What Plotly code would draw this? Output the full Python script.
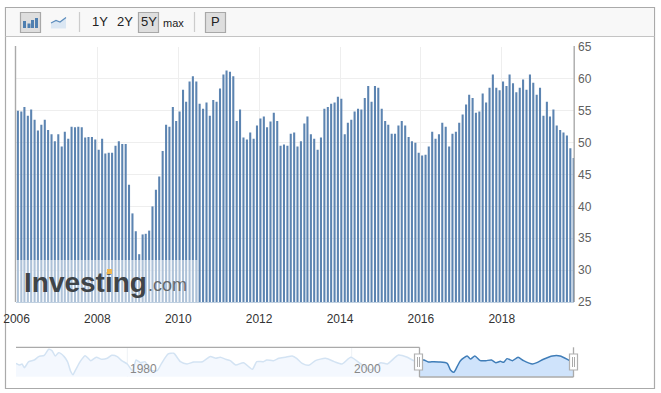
import pandas as pd
import plotly.graph_objects as go

W, H = 661, 393

months = pd.date_range("2006-01-13", periods=166, freq=pd.DateOffset(months=1))
pmi_values = [
    55.0, 54.9, 55.6, 54.2, 55.2, 53.6, 51.9, 52.8, 53.6, 52.0, 51.3, 50.2,
    51.3, 49.4, 51.7, 50.6, 52.5, 52.4, 52.5, 52.4, 50.8, 50.9, 50.9, 50.5,
    48.9, 50.6, 48.3, 48.4, 48.4, 49.5, 50.2, 49.8, 49.8, 43.4, 38.9, 36.1,
    32.5, 35.6, 35.7, 36.2, 40.0, 42.6, 44.7, 48.7, 52.8, 52.5, 55.6, 53.4,
    54.9, 58.3, 56.4, 59.6, 60.4, 59.6, 56.1, 55.3, 56.3, 54.2, 56.7, 56.4,
    58.5, 60.7, 61.3, 61.1, 60.4, 53.4, 55.2, 50.8, 50.5, 51.6, 50.6, 52.7,
    53.8, 54.1, 52.4, 53.3, 54.7, 53.4, 49.5, 49.7, 49.5, 51.4, 51.6, 49.4,
    50.2, 53.0, 54.1, 51.3, 50.6, 48.9, 50.8, 55.3, 55.6, 56.1, 56.3, 57.2,
    56.9, 51.3, 53.1, 53.6, 54.9, 55.3, 55.2, 57.0, 58.9, 56.4, 58.9, 58.6,
    55.3, 53.4, 52.8, 51.4, 51.4, 52.7, 53.4, 52.7, 50.9, 50.2, 50.0, 48.4,
    48.0, 48.1, 49.4, 51.7, 50.6, 51.3, 53.1, 52.5, 49.4, 51.4, 51.7, 53.1,
    54.4, 56.0, 57.5, 57.0, 54.7, 54.9, 57.7, 56.3, 58.6, 60.7, 58.6, 58.2,
    59.6, 58.9, 60.7, 59.3, 57.9, 58.6, 59.9, 58.3, 60.7, 59.4, 57.5, 58.6,
    54.2, 56.4, 54.1, 55.2, 52.7, 52.0, 51.6, 51.1, 49.1, 47.6,
]

nav_years_before = [
    1969.55, 1969.9, 1970.1, 1970.3, 1970.7, 1971.2, 1971.6, 1972.1, 1972.5, 1972.8,
    1973.1, 1973.4, 1973.9, 1974.2, 1974.5, 1974.7, 1974.9, 1975.4, 1975.8, 1976.3,
    1976.8, 1977.3, 1977.8, 1978.2, 1978.7, 1979.1, 1979.6, 1980.0, 1980.1, 1980.4,
    1980.8, 1981.2, 1981.7, 1982.3, 1982.7, 1983.3, 1983.8, 1984.4, 1985.0, 1985.6,
    1986.4, 1987.1, 1987.6, 1988.0, 1988.5, 1988.9, 1989.4, 1990.1, 1990.9, 1991.3,
    1991.9, 1992.2, 1992.8, 1993.3, 1993.9, 1994.5, 1994.9, 1995.4, 1996.0, 1996.6,
    1997.5, 1998.3, 1999.0, 1999.8, 2000.7, 2001.6, 2002.5, 2003.1, 2004.1, 2004.9,
    2005.5, 2006.0,
]
nav_values_before = [
    47.9, 45.0, 46.8, 40.2, 50.9, 53.9, 59.9, 62.2, 72.9, 70.6,
    61.0, 67.0, 59.9, 50.9, 33.0, 27.7, 34.9, 52.7, 61.6, 52.7,
    58.7, 55.1, 56.9, 62.2, 59.9, 52.7, 46.8, 36.0, 34.9, 53.9,
    49.1, 50.9, 36.0, 34.9, 47.9, 64.6, 65.8, 50.9, 46.8, 50.3,
    50.9, 59.9, 56.9, 58.7, 55.1, 52.7, 45.0, 49.1, 37.2, 50.9,
    50.9, 53.9, 52.7, 56.9, 58.7, 61.0, 56.9, 47.9, 44.4, 52.7,
    56.9, 50.9, 46.8, 58.7, 46.8, 36.0, 49.1, 46.8, 62.8, 58.7,
    52.7, 54.5,
]
nav_years_selected = [
    2006.0, 2006.4, 2006.8, 2007.3, 2007.75, 2008.5, 2008.8, 2009.1, 2009.4, 2009.7,
    2010.3, 2010.6, 2011.0, 2011.5, 2012.0, 2012.5, 2012.9, 2013.3, 2013.6, 2013.9,
    2014.4, 2014.9, 2015.4, 2016.2, 2016.6, 2017.2, 2018.0, 2018.7, 2019.6, 2019.95,
]
nav_values_selected = [
    54.5, 53.9, 50.3, 50.9, 50.3, 47.9, 36.0, 31.9, 42.0, 52.7,
    61.0, 55.7, 61.0, 52.7, 52.7, 53.9, 49.1, 51.5, 49.7, 56.3,
    52.7, 58.7, 52.7, 46.8, 49.1, 55.1, 61.0, 61.0, 52.7, 50.0,
]

y_ticks = [25, 30, 35, 40, 45, 50, 55, 60, 65]
toolbar_labels = ["1Y", "2Y", "5Y", "max", "P"]
nav_labels = ["1980", "2000"]


def px(x):
    return x / W


def py(y):
    return 1 - y / H


fig = go.Figure()
fig.add_trace(go.Bar(x=months, y=pmi_values, marker=dict(color="#5c84b1", line_width=0),
                     xaxis="x", yaxis="y", hoverinfo="skip"))
fig.add_trace(go.Scatter(x=nav_years_before, y=nav_values_before, mode="lines", xaxis="x2", yaxis="y2",
                         line=dict(color="#d3e3f3", width=1.5, shape="spline", smoothing=0.6),
                         fill="tozeroy", fillcolor="#f4f8fe", hoverinfo="skip"))
fig.add_trace(go.Scatter(x=nav_years_selected, y=nav_values_selected, mode="lines", xaxis="x2", yaxis="y2",
                         line=dict(color="#3f7db8", width=1.5, shape="spline", smoothing=0.6),
                         fill="tozeroy", fillcolor="#cfe3fb", hoverinfo="skip"))

shapes = []


def rect(x0, y0, x1, y1, fill="rgba(0,0,0,0)", line="rgba(0,0,0,0)", lw=1, layer="above"):
    shapes.append(dict(type="rect", xref="paper", yref="paper", x0=px(x0), x1=px(x1), y0=py(y0), y1=py(y1),
                       fillcolor=fill, line=dict(color=line, width=lw), layer=layer))


def seg(x0, y0, x1, y1, color="#aaaaaa", lw=1.4, layer="above"):
    shapes.append(dict(type="line", xref="paper", yref="paper", x0=px(x0), x1=px(x1), y0=py(y0), y1=py(y1),
                       line=dict(color=color, width=lw), layer=layer))


# frame and toolbar
rect(5.5, 7.5, 654.5, 388.5, fill="white", line="#aaaaaa", lw=1.2, layer="below")
rect(6, 8, 654, 36.5, fill="#f8f8f8", layer="below")
seg(5.5, 36.5, 654.5, 36.5, color="#c4c4c4", lw=1.2, layer="below")
for bx0, bx1 in [(20.5, 40.5), (138.5, 158.5), (205.5, 225.5)]:
    rect(bx0, 12.5, bx1, 32.5, fill="#dedede", line="#a8a8a8", lw=1.2, layer="below")
for sx in [79.5, 194.5]:
    seg(sx, 12, sx, 32, color="#cccccc", lw=1.2, layer="below")
# bars icon
rect(23, 21, 26, 28, fill="#4f7fb0")
rect(27.5, 23.5, 30.5, 28, fill="#4f7fb0")
rect(31, 20, 34, 28, fill="#4f7fb0")
rect(35, 18, 38, 28, fill="#4f7fb0")
# line icon
shapes.append(dict(type="path", xref="paper", yref="paper", layer="above",
                   path=f"M {px(51)} {py(23)} L {px(56)} {py(20.5)} L {px(60)} {py(22)} L {px(66)} {py(17.5)} "
                        f"L {px(66)} {py(28.5)} L {px(51)} {py(28.5)} Z",
                   fillcolor="#dbe7f3", line=dict(width=0)))
shapes.append(dict(type="path", xref="paper", yref="paper", layer="above",
                   path=f"M {px(51)} {py(23)} L {px(56)} {py(20.5)} L {px(60)} {py(22)} L {px(66)} {py(17.5)}",
                   line=dict(color="#5c8dbd", width=1.2)))

# plot edges
seg(15.5, 46, 15.5, 302, lw=1.4)
seg(574.2, 46, 574.2, 302, lw=1.4)

# watermark
rect(16, 260, 197.5, 302, fill="rgba(255,255,255,0.5)")

# navigator chrome
for year_px in [127.3, 351.7]:
    seg(year_px, 347, year_px, 377, color="#eef2f6", lw=1, layer="below")
seg(16, 347.3, 419.5, 347.3, lw=1.3)
seg(419.5, 347.3, 419.5, 377, lw=1.3)
seg(419.5, 377, 573.5, 377, lw=1.3)
seg(573.5, 347.3, 573.5, 377, lw=1.3)
for hx in [414.5, 569.5]:
    rect(hx, 354, hx + 8, 370, fill="white", line="#b0b0b0", lw=1.2)
    seg(hx + 3, 357, hx + 3, 367, lw=1)
    seg(hx + 5, 357, hx + 5, 367, lw=1)


def note(x, y, text, size, color, anchor="center", font="Liberation Sans"):
    return dict(xref="paper", yref="paper", x=px(x), y=py(y), text=text, showarrow=False,
                xanchor=anchor, yanchor="middle", borderpad=0, borderwidth=0,
                font=dict(family=font, size=size, color=color))


logo_dot = note(109.2, 271.5, "&nbsp;", 4, "#f0b64c")
logo_dot.update(width=5, height=5, bgcolor="#f0b64c")

annotations = [
    note(100, 22, toolbar_labels[0], 13, "#222222"),
    note(124.5, 22, toolbar_labels[1], 13, "#222222"),
    note(148.5, 22, toolbar_labels[2], 13, "#222222"),
    note(173.5, 22.5, toolbar_labels[3], 11, "#222222"),
    note(215.5, 22, toolbar_labels[4], 13, "#222222"),
    note(24, 282, "<b>Investing</b>", 28, "#3f4448", anchor="left"),
    logo_dot,
    note(148, 285, ".com", 18, "#666a6e", anchor="left"),
    note(143.5, 369, nav_labels[0], 12, "#888888"),
    note(367.5, 369, nav_labels[1], 12, "#888888"),
]

fig.update_layout(
    width=W, height=H, autosize=False, showlegend=False,
    margin=dict(l=0, r=0, t=0, b=0, pad=0, autoexpand=False),
    paper_bgcolor="white", plot_bgcolor="rgba(0,0,0,0)",
    bargap=0.33, hovermode=False,
    font=dict(family="Liberation Sans", size=12, color="#333333"),
    shapes=shapes, annotations=annotations,
    xaxis=dict(domain=[px(16), px(574)], range=["2005-12-27", "2019-10-16"], type="date",
               tick0="2006-01-01", dtick="M24", tickformat="%Y", ticks="", showgrid=True,
               gridcolor="#eeeeee", gridwidth=1.2, showline=True, linecolor="#c0d0e0", linewidth=1,
               tickfont=dict(size=12, color="#333333"), anchor="y", zeroline=False, ticklabelstandoff=6),
    yaxis=dict(domain=[py(302), py(47)], range=[25, 65], side="right", tickvals=y_ticks, ticks="",
               showgrid=True, gridcolor="#eeeeee", gridwidth=1.2, zeroline=False, anchor="x",
               tickfont=dict(size=12, color="#606060"), showline=False, ticklabelstandoff=3),
    xaxis2=dict(domain=[px(16), px(574)], range=[1969.55, 1969.55 + 558 / 11.07], showgrid=False, visible=False,
                anchor="y2"),
    yaxis2=dict(domain=[py(376.7), py(347.3)], range=[24.1, 76.5], showgrid=False, visible=False, anchor="x2"),
)

fig.write_html("out.html", config={"displayModeBar": False},
               post_script="document.body.style.margin='0';")
